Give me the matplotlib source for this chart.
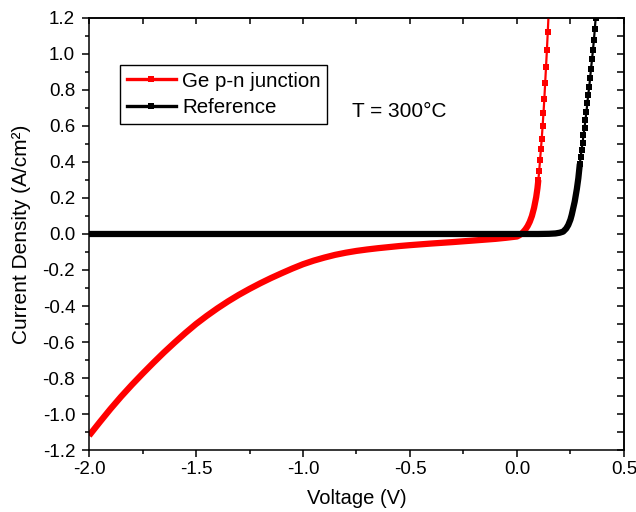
import numpy as np
import matplotlib
matplotlib.use('Agg')
import matplotlib.pyplot as plt
from matplotlib.ticker import MultipleLocator

plt.rcParams['font.family'] = ['Liberation Sans', 'DejaVu Sans']

# Ge p-n junction: slow part (markers merge into a band) and steep part
ge_v_slow = [-2.00, -1.95, -1.90, -1.85, -1.80, -1.75, -1.70, -1.65, -1.60, -1.55,
             -1.50, -1.45, -1.40, -1.35, -1.30, -1.25, -1.20, -1.15, -1.10, -1.05,
             -1.00, -0.95, -0.90, -0.85, -0.80, -0.75, -0.70, -0.65, -0.60, -0.55,
             -0.50, -0.40, -0.30, -0.20, -0.10, -0.05, 0.00, 0.01, 0.02, 0.03,
             0.04, 0.05, 0.06, 0.07, 0.08, 0.09, 0.096, 0.100]
ge_j_slow = [-1.120, -1.045, -0.972, -0.903, -0.838, -0.776, -0.716, -0.658, -0.603, -0.550,
             -0.500, -0.455, -0.413, -0.374, -0.338, -0.305, -0.274, -0.245, -0.218, -0.192,
             -0.168, -0.148, -0.131, -0.116, -0.104, -0.094, -0.086, -0.079, -0.073, -0.067,
             -0.062, -0.053, -0.045, -0.036, -0.027, -0.021, -0.014, -0.008, 0.000, 0.012,
             0.026, 0.044, 0.068, 0.100, 0.145, 0.205, 0.255, 0.300]
ge_v_fast = [0.100, 0.104, 0.108, 0.112, 0.116, 0.120, 0.124, 0.128, 0.132, 0.136,
             0.140, 0.144, 0.148]
ge_j_fast = [0.30, 0.35, 0.41, 0.47, 0.53, 0.60, 0.67, 0.75, 0.84, 0.93,
             1.02, 1.12, 1.22]

# Reference diode
ref_v_slow = [-2.00, -1.50, -1.00, -0.50, 0.00, 0.10, 0.15, 0.18, 0.20, 0.216,
              0.23, 0.24, 0.25, 0.256, 0.27, 0.28, 0.287, 0.294]
ref_j_slow = [0.0, 0.0, 0.0, 0.0, 0.0, 0.0, 0.001, 0.003, 0.007, 0.013,
              0.030, 0.050, 0.080, 0.106, 0.180, 0.250, 0.310, 0.390]
ref_v_fast = [0.294, 0.298, 0.302, 0.307, 0.311, 0.316, 0.320, 0.325, 0.329, 0.333,
              0.338, 0.342, 0.346, 0.351, 0.355, 0.360, 0.364, 0.368, 0.372]
ref_j_fast = [0.390, 0.430, 0.467, 0.507, 0.550, 0.590, 0.633, 0.680, 0.726, 0.772,
              0.818, 0.866, 0.916, 0.970, 1.020, 1.080, 1.140, 1.200, 1.260]

fig = plt.figure(figsize=(6.36, 5.12), dpi=100)
ax = fig.add_axes([0.140, 0.121, 0.841, 0.844])

band = 4.5
ax.plot(ge_v_slow, ge_j_slow, color='#ff0000', lw=band, solid_capstyle='butt')
ax.plot(ge_v_fast, ge_j_fast, color='#ff0000', lw=1.6, marker='s', ms=4.6,
        mew=0, label='Ge p-n junction')
ax.plot(ref_v_slow, ref_j_slow, color='black', lw=band, solid_capstyle='butt')
ax.plot(ref_v_fast, ref_j_fast, color='black', lw=1.6, marker='s', ms=4.6,
        mew=0, label='Reference')

ax.set_xlim(-2.0, 0.5)
ax.set_ylim(-1.2, 1.2)
ax.xaxis.set_major_locator(MultipleLocator(0.5))
ax.xaxis.set_minor_locator(MultipleLocator(0.25))
ax.yaxis.set_major_locator(MultipleLocator(0.2))
ax.yaxis.set_minor_locator(MultipleLocator(0.1))
ax.xaxis.set_major_formatter(plt.FormatStrFormatter('%.1f'))
ax.yaxis.set_major_formatter(plt.FormatStrFormatter('%.1f'))
ax.tick_params(which='major', direction='out', length=5, width=1.1,
               labelsize=13.5, pad=3)
ax.tick_params(axis='y', which='major', pad=5)
ax.tick_params(which='minor', direction='out', length=3, width=1.1)
for s in ax.spines.values():
    s.set_linewidth(1.1)

# ticks on top and right point inward
top = ax.secondary_xaxis('top')
top.xaxis.set_major_locator(MultipleLocator(0.25))
top.tick_params(direction='in', length=4, width=1.1, labeltop=False)
right = ax.secondary_yaxis('right')
right.yaxis.set_major_locator(MultipleLocator(0.1))
right.tick_params(direction='in', length=5, width=1.1, labelright=False)
top.spines['top'].set_linewidth(1.1)
right.spines['right'].set_linewidth(1.1)

ax.set_xlabel('Voltage (V)', fontsize=14.5, labelpad=8)
ax.set_ylabel('Current Density (A/cm²)', fontsize=15, labelpad=8)

ax.text(-0.77, 0.68, 'T = 300°C', fontsize=15, ha='left', va='center')

leg = ax.legend(loc='upper left', bbox_to_anchor=(0.058, 0.891), borderaxespad=0,
                fancybox=False, edgecolor='black', framealpha=1, fontsize=14.8,
                handlelength=2.4, handletextpad=0.3, labelspacing=0.38,
                borderpad=0.32, numpoints=1)
leg.get_frame().set_linewidth(1.0)
for h in leg.legend_handles:
    h.set_linewidth(2.4)

fig.savefig('out.png', dpi=100)
